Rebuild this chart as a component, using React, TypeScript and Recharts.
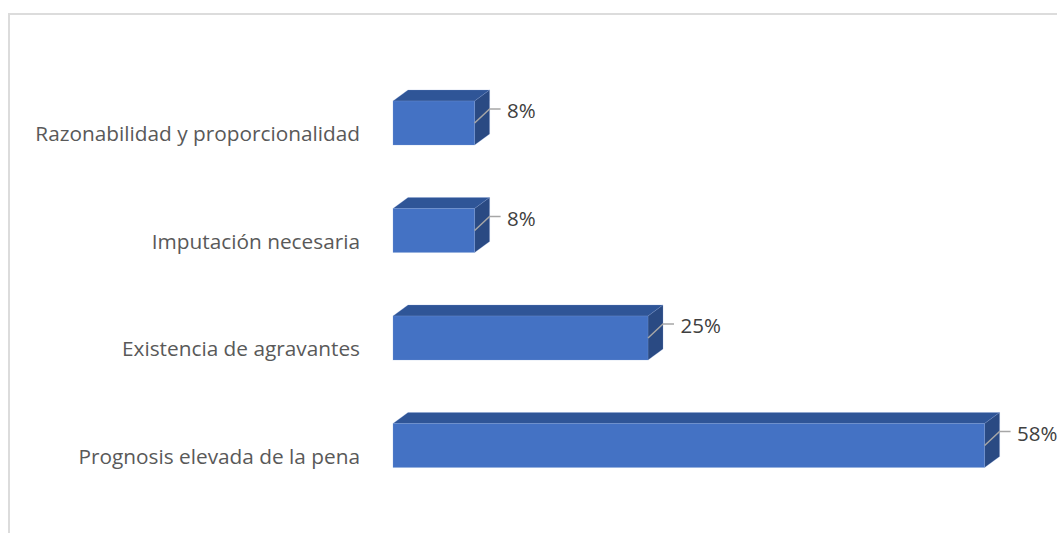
import { BarChart, Bar, XAxis, YAxis, LabelList } from "recharts";

const categories = [
  "Razonabilidad y proporcionalidad",
  "Imputación necesaria",
  "Existencia de agravantes",
  "Prognosis elevada de la pena",
];
const percentages = [8, 8, 25, 58];

const rows = categories.map((name, i) => ({ name, value: percentages[i] }));

const DEPTH_X = 15;
const DEPTH_Y = 11;
const FONT = '"Open Sans", sans-serif';

// Extruded bar: front face plus the top and right sides of the box
function BoxBar({ x, y, width, height }: any) {
  const edge = { stroke: "#7f9fd8", strokeWidth: 0.6, strokeOpacity: 0.4 };
  return (
    <g>
      <polygon
        points={`${x},${y} ${x + DEPTH_X},${y - DEPTH_Y} ${x + width + DEPTH_X},${y - DEPTH_Y} ${x + width},${y}`}
        fill="#2f5597"
        {...edge}
      />
      <polygon
        points={`${x + width},${y} ${x + width + DEPTH_X},${y - DEPTH_Y} ${x + width + DEPTH_X},${y + height - DEPTH_Y} ${x + width},${y + height}`}
        fill="#2a4a83"
        {...edge}
      />
      <rect x={x} y={y} width={width} height={height} fill="#4472c4" {...edge} />
    </g>
  );
}

// Percentage label with its leader line coming off the side of the box
function LeaderLabel({ x, y, width, height, value }: any) {
  const end = x + width;
  const mid = y + height / 2;
  const lineY = mid - 14;
  return (
    <g>
      <polyline
        points={`${end},${mid} ${end + DEPTH_X},${lineY} ${end + DEPTH_X + 11},${lineY}`}
        fill="none"
        stroke="#a6a6a6"
        strokeWidth={1.5}
      />
      <text
        x={end + 32.5}
        y={lineY + 4}
        fill="#404040"
        fontFamily={FONT}
        fontSize={20.5}
        dominantBaseline="middle"
      >
        {value}%
      </text>
    </g>
  );
}

function CategoryTick({ y, payload }: any) {
  return (
    <text
      x={360}
      y={y + 13}
      textAnchor="end"
      dominantBaseline="middle"
      fill="#595959"
      fontFamily={FONT}
      fontSize={20.8}
    >
      {payload.value}
    </text>
  );
}

export default function App() {
  return (
    <div
      style={{
        position: "absolute",
        left: 0,
        top: 0,
        width: 1057,
        height: 533,
        overflow: "hidden",
        background: "#fff",
      }}
    >
      <div
        style={{
          position: "absolute",
          left: 8,
          top: 13,
          right: -4,
          bottom: -4,
          borderLeft: "2px solid #dcdcdc",
          borderTop: "2px solid #dcdcdc",
        }}
      />
      <div style={{ position: "absolute", left: 0, top: 0 }}>
        <BarChart
          width={1057}
          height={533}
          data={rows}
          layout="vertical"
          barSize={44}
          margin={{ top: 69, right: 52, bottom: 34, left: 0 }}
        >
          <XAxis type="number" domain={[0, 60]} hide />
          <YAxis
            type="category"
            dataKey="name"
            width={393}
            axisLine={false}
            tickLine={false}
            interval={0}
            tick={CategoryTick}
          />
          <Bar dataKey="value" shape={BoxBar} isAnimationActive={false}>
            <LabelList dataKey="value" content={LeaderLabel} />
          </Bar>
        </BarChart>
      </div>
    </div>
  );
}
